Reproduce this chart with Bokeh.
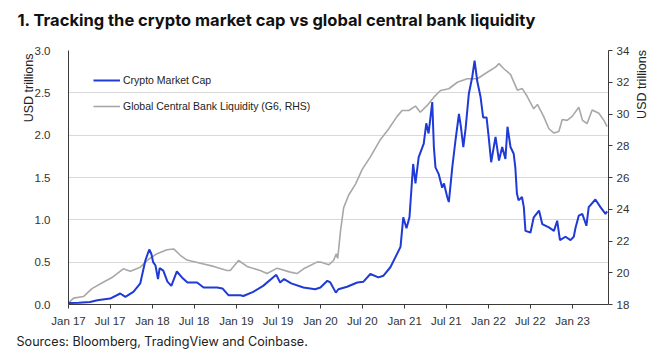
import math
import pandas as pd
from bokeh.plotting import figure
from bokeh.models import (Range1d, LinearAxis, FixedTicker, DatetimeTickFormatter, Label,
                          NumeralTickFormatter, Title, Legend, LegendItem, ColumnDataSource)
from bokeh.embed import file_html
from bokeh.resources import INLINE

# ---------------- data ----------------
crypto_dates = [
    "2017-01-01", "2017-02-15", "2017-04-05", "2017-05-06", "2017-07-01", "2017-08-14",
    "2017-09-05", "2017-10-10", "2017-11-09", "2017-12-01", "2017-12-18", "2017-12-27",
    "2018-01-04", "2018-01-14", "2018-01-25", "2018-02-01", "2018-02-17", "2018-03-07",
    "2018-03-24", "2018-04-17", "2018-05-09", "2018-06-02", "2018-07-14", "2018-08-11",
    "2018-10-09", "2018-11-01", "2018-11-27", "2019-01-18", "2019-01-31", "2019-03-15",
    "2019-04-27", "2019-06-14", "2019-06-23", "2019-07-10", "2019-07-27", "2019-08-27",
    "2019-10-19", "2019-12-09", "2020-01-01", "2020-01-31", "2020-02-13", "2020-03-08",
    "2020-03-19", "2020-04-26", "2020-06-09", "2020-07-06", "2020-08-05", "2020-09-09",
    "2020-10-01", "2020-10-31", "2020-11-22", "2020-12-14", "2020-12-26", "2021-01-09",
    "2021-01-22", "2021-02-07", "2021-02-17", "2021-03-03", "2021-03-25", "2021-04-05",
    "2021-04-15", "2021-05-01", "2021-05-08", "2021-05-15", "2021-05-29", "2021-06-13",
    "2021-06-21", "2021-07-05", "2021-07-12", "2021-07-27", "2021-08-10", "2021-08-25",
    "2021-09-02", "2021-09-13", "2021-09-23", "2021-10-07", "2021-10-22", "2021-11-01",
    "2021-11-13", "2021-11-27", "2021-12-08", "2021-12-23", "2022-01-02", "2022-01-12",
    "2022-01-31", "2022-02-15", "2022-03-01", "2022-03-15", "2022-03-24", "2022-04-06",
    "2022-04-20", "2022-04-27", "2022-05-04", "2022-05-11", "2022-05-26", "2022-06-03",
    "2022-06-10", "2022-07-02", "2022-07-16", "2022-08-08", "2022-08-22", "2022-09-20",
    "2022-10-12", "2022-10-26", "2022-11-07", "2022-12-01", "2022-12-23", "2023-01-06",
    "2023-01-14", "2023-01-28", "2023-02-12", "2023-03-02", "2023-03-12", "2023-04-10",
    "2023-05-02", "2023-05-24", "2023-05-31",
]
crypto_cap = [
    0.018, 0.02, 0.03, 0.05, 0.07, 0.13,
    0.09, 0.15, 0.25, 0.52, 0.65, 0.60,
    0.50, 0.46, 0.30, 0.43, 0.40, 0.27,
    0.22, 0.39, 0.32, 0.26, 0.26, 0.20,
    0.20, 0.19, 0.11, 0.11, 0.10, 0.15,
    0.22, 0.33, 0.35, 0.26, 0.30, 0.25,
    0.20, 0.18, 0.20, 0.28, 0.26, 0.14,
    0.18, 0.21, 0.26, 0.27, 0.36, 0.32,
    0.34, 0.44, 0.56, 0.68, 1.03, 0.90,
    1.03, 1.66, 1.43, 1.74, 1.90, 2.14,
    2.02, 2.39, 1.86, 1.62, 1.54, 1.38,
    1.43, 1.27, 1.21, 1.62, 1.94, 2.25,
    2.11, 1.86, 2.08, 2.49, 2.69, 2.88,
    2.63, 2.45, 2.21, 2.21, 1.96, 1.68,
    1.98, 1.70, 1.86, 1.72, 2.10, 1.86,
    1.78, 1.62, 1.31, 1.23, 1.27, 1.15,
    0.87, 0.85, 1.03, 1.11, 0.95, 0.91,
    0.87, 0.99, 0.76, 0.80, 0.76, 0.80,
    0.91, 1.05, 1.07, 0.93, 1.15, 1.24,
    1.15, 1.07, 1.10,
]

liq_dates = [
    "2017-01-01", "2017-01-23", "2017-03-07", "2017-04-13", "2017-06-01", "2017-07-09",
    "2017-08-27", "2017-09-27", "2017-11-09", "2017-12-15", "2018-01-21", "2018-03-05",
    "2018-04-03", "2018-05-02", "2018-05-31", "2018-07-28", "2018-09-24", "2018-11-21",
    "2018-12-05", "2019-01-10", "2019-02-16", "2019-04-14", "2019-05-14", "2019-06-27",
    "2019-08-23", "2019-09-21", "2019-10-20", "2019-12-17", "2020-01-01", "2020-02-06",
    "2020-02-27", "2020-03-10", "2020-03-16", "2020-03-28", "2020-04-11", "2020-05-03",
    "2020-06-02", "2020-06-30", "2020-08-05", "2020-09-18", "2020-10-24", "2020-11-29",
    "2020-12-21", "2021-01-19", "2021-02-17", "2021-03-10", "2021-04-09", "2021-05-08",
    "2021-06-06", "2021-07-12", "2021-08-18", "2021-09-30", "2021-11-13", "2021-12-26",
    "2022-01-31", "2022-02-15", "2022-03-08", "2022-04-06", "2022-05-06", "2022-05-27",
    "2022-06-18", "2022-07-16", "2022-08-01", "2022-08-28", "2022-09-20", "2022-10-12",
    "2022-11-02", "2022-11-17", "2022-12-08", "2022-12-30", "2023-01-28", "2023-02-13",
    "2023-03-05", "2023-03-27", "2023-04-25", "2023-05-17", "2023-05-31",
]
liq_vals = [
    18.1, 18.4, 18.5, 19.0, 19.4, 19.7,
    20.25, 20.1, 20.35, 20.85, 21.2, 21.45,
    21.5, 21.1, 20.8, 20.6, 20.4, 20.14,
    20.14, 20.77, 20.4, 20.14, 19.95, 20.29,
    20.04, 19.95, 20.25, 20.67, 20.67, 20.5,
    20.77, 21.2, 20.9, 22.6, 24.1, 24.9,
    25.6, 26.5, 27.3, 28.4, 29.07, 29.85,
    30.22, 30.22, 30.5, 30.11, 30.54, 31.06,
    31.48, 31.59, 32.0, 32.22, 32.22, 32.63,
    32.95, 33.17, 32.85, 32.5, 31.5, 31.6,
    31.1, 30.33, 30.6, 29.85, 29.07, 28.8,
    28.9, 29.65, 29.6, 29.85, 30.43, 29.6,
    29.4, 30.25, 30.05, 29.6, 29.2,
]

tick_dates = ["2017-01-01", "2017-07-01", "2018-01-01", "2018-07-01", "2019-01-01",
              "2019-07-01", "2020-01-01", "2020-07-01", "2021-01-01", "2021-07-01",
              "2022-01-01", "2022-07-01", "2023-01-01"]
left_ticks = [0.0, 0.5, 1.0, 1.5, 2.0, 2.5, 3.0]
right_ticks = [18, 20, 22, 24, 26, 28, 30, 32, 34]

x_start = "2017-01-01"
x_end = "2023-06-06"

# ---------------- figure ----------------
SANS = "Liberation Sans"
INTER = "Inter"

to_dt = lambda s: pd.to_datetime(s)

p = figure(width=660, height=357, x_axis_type="datetime", output_backend="svg",
           toolbar_location=None,
           x_range=Range1d(to_dt(x_start), to_dt(x_end)),
           y_range=Range1d(0, 3.0),
           min_border_left=68, min_border_right=52, min_border_top=50, min_border_bottom=53)
p.outline_line_color = None
p.background_fill_color = "white"
p.border_fill_color = "white"

p.extra_y_ranges = {"liq": Range1d(18, 34)}

AX_COLOR = "#3a3a3a"
TICK_COLOR = "#333333"

# x axis
xa = p.xaxis[0]
xa.ticker = FixedTicker(ticks=[to_dt(d).timestamp() * 1000 for d in tick_dates])
fmt = "%b %y"
xa.formatter = DatetimeTickFormatter(days=fmt, months=fmt, years=fmt, hours=fmt,
                                     minutes=fmt, seconds=fmt, milliseconds=fmt,
                                     minsec=fmt, hourmin=fmt, microseconds=fmt)
xa.major_label_text_font = SANS
xa.major_label_text_font_size = "11.5px"
xa.major_label_text_color = TICK_COLOR
xa.major_label_standoff = 6
xa.axis_line_color = AX_COLOR
xa.major_tick_line_color = AX_COLOR
xa.major_tick_out = 4
xa.major_tick_in = 0
xa.minor_tick_line_color = None

# left axis
ya = p.yaxis[0]
ya.ticker = FixedTicker(ticks=left_ticks)
ya.formatter = NumeralTickFormatter(format="0.0")
ya.major_label_text_font = SANS
ya.major_label_text_font_size = "11.5px"
ya.major_label_text_color = TICK_COLOR
ya.major_label_standoff = 12
ya.axis_line_color = AX_COLOR
ya.major_tick_line_color = None
ya.minor_tick_line_color = None

# right axis
ra = LinearAxis(y_range_name="liq", ticker=FixedTicker(ticks=right_ticks))
ra.major_label_text_font = SANS
ra.major_label_text_font_size = "11.5px"
ra.major_label_text_color = TICK_COLOR
ra.major_label_standoff = 4
ra.axis_line_color = AX_COLOR
ra.major_tick_line_color = AX_COLOR
ra.major_tick_out = 4
ra.major_tick_in = 0
ra.minor_tick_line_color = None
p.add_layout(ra, "right")

p.xgrid.grid_line_color = None
p.ygrid.grid_line_color = "#d9d9d9"
p.ygrid.grid_line_width = 1

# lines
liq_src = ColumnDataSource(dict(x=[to_dt(d) for d in liq_dates], y=liq_vals))
cr_src = ColumnDataSource(dict(x=[to_dt(d) for d in crypto_dates], y=crypto_cap))
r_liq = p.line("x", "y", source=liq_src, y_range_name="liq", line_color="#a8a8a8", line_width=1.6)
r_cr = p.line("x", "y", source=cr_src, line_color="#1f3ad6", line_width=2)

legend = Legend(items=[LegendItem(label="Crypto Market Cap", renderers=[r_cr]),
                       LegendItem(label="Global Central Bank Liquidity (G6, RHS)", renderers=[r_liq])],
                location=(25, 190), padding=0, margin=0, spacing=10,
                glyph_width=27, glyph_height=16, label_height=16, label_standoff=3,
                label_text_font=SANS, label_text_font_size="10.5px", label_text_color="#222222",
                border_line_color=None, background_fill_alpha=0)
p.add_layout(legend)

# texts placed in the side panels
p.add_layout(Label(x=-51, y=31, x_units="screen", y_units="screen",
                   text="1. Tracking the crypto market cap vs global central bank liquidity",
                   text_font=INTER, text_font_style="bold", text_font_size="16.5px",
                   text_color="#111111", text_align="left", text_baseline="alphabetic"), "above")
p.add_layout(Title(text="Sources: Bloomberg, TradingView and Coinbase.",
                   align="left", offset=-52, standoff=4,
                   text_font=INTER, text_font_style="normal", text_font_size="12.6px",
                   text_color="#222222"), "below")
p.add_layout(Title(text="USD trillions", align="right", offset=3, standoff=-9,
                   text_font=SANS, text_font_style="normal", text_font_size="12.5px",
                   text_color="#222222"), "left")
p.add_layout(Label(x=9, y=220, x_units="screen", y_units="screen", angle=math.pi / 2,
                   text="USD trillions", text_font=SANS, text_font_size="12.5px",
                   text_color="#222222", text_align="center", text_baseline="middle"), "right")

open("out.html", "w").write(file_html(p, INLINE))
